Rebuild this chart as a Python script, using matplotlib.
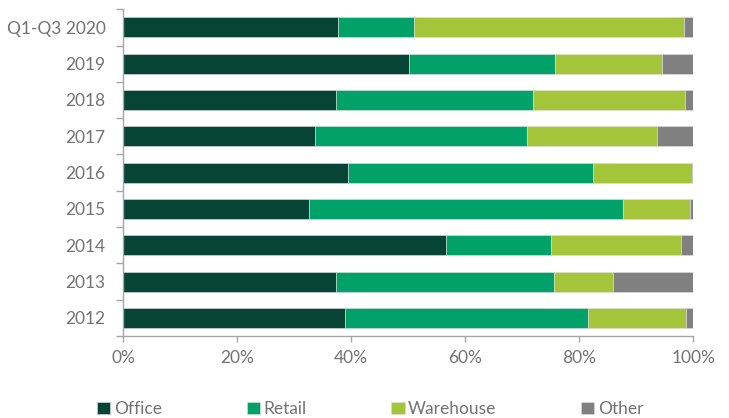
import matplotlib
matplotlib.use("Agg")
import matplotlib.pyplot as plt
import numpy as np

categories = ["Q1-Q3 2020", "2019", "2018", "2017", "2016", "2015", "2014", "2013", "2012"]
office    = [37.7, 50.2, 37.3, 33.7, 39.5, 32.6, 56.6, 37.3, 38.9]
retail    = [13.3, 25.5, 34.6, 37.1, 42.9, 55.0, 18.5, 38.2, 42.6]
warehouse = [47.3, 18.9, 26.6, 22.8, 17.4, 11.8, 22.8, 10.5, 17.3]
other     = [1.7, 5.4, 1.5, 6.4, 0.2, 0.6, 2.1, 14.0, 1.2]

series = [("Office", office, "#064536"), ("Retail", retail, "#00A269"),
          ("Warehouse", warehouse, "#A4C43A"), ("Other", other, "#808080")]

plt.rcParams['font.family'] = ['Lato', 'DejaVu Sans']
text_color = "#737373"
spine_color = "#a6a6a6"

fig = plt.figure(figsize=(7.29, 4.18), dpi=100)
ax = fig.add_axes([0.1687, 0.196, 0.951 - 0.1687, 0.978 - 0.196])

y = np.arange(len(categories))
left = np.zeros(len(categories))
handles = []
for name, vals, col in series:
    b = ax.barh(y, vals, left=left, height=0.55, color=col, edgecolor="#e0e0e0",
                linewidth=0.4, label=name)
    handles.append(b)
    left += np.array(vals)

ax.set_xlim(0, 100)
ax.set_ylim(len(categories) - 0.5, -0.5)
ax.set_yticks(y)
ax.set_yticklabels(categories)
ax.set_yticks(np.arange(-0.5, len(categories), 1), minor=True)
ax.tick_params(axis='y', which='major', length=0, pad=12.5, labelsize=12.5, labelcolor=text_color)
ax.tick_params(axis='y', which='minor', length=5, color=spine_color, width=1)
ax.set_xticks(np.arange(0, 101, 20))
ax.set_xticklabels([f"{v}%" for v in range(0, 101, 20)])
ax.tick_params(axis='x', length=4, color=spine_color, width=1, pad=6, labelsize=12.5, labelcolor=text_color)
for s in ["top", "right"]:
    ax.spines[s].set_visible(False)
for s in ["left", "bottom"]:
    ax.spines[s].set_color(spine_color)
    ax.spines[s].set_linewidth(1)

leg = fig.legend(handles=handles, loc="center", bbox_to_anchor=(0.508, 0.0215), ncol=4,
                 frameon=False, handlelength=0.75, handleheight=0.75, handletextpad=0.2,
                 columnspacing=4.9, fontsize=12.5, borderaxespad=0)
for t in leg.get_texts():
    t.set_color(text_color)

fig.savefig("out.png", dpi=100)
